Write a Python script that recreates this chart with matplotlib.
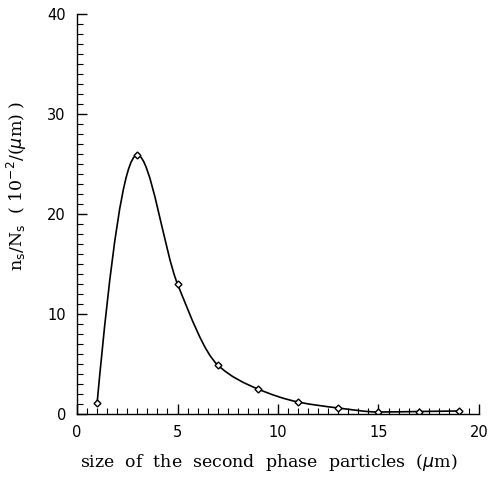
import numpy as np
import matplotlib
matplotlib.use("Agg")
import matplotlib.pyplot as plt
from matplotlib.path import Path
from matplotlib.patches import PathPatch
from matplotlib.ticker import MultipleLocator

size_um = [1, 3, 5, 7, 9, 11, 13, 15, 17, 19]
ratio = [1.1, 25.9, 13.0, 4.9, 2.5, 1.2, 0.6, 0.2, 0.25, 0.3]
xticks = [0, 5, 10, 15, 20]
yticks = [0, 10, 20, 30, 40]

fig = plt.figure(figsize=(4.89, 4.80), dpi=100)
ax = fig.add_axes([0.1575, 0.1375, 0.822, 0.8333])

# shape-preserving (PCHIP-style) tangents -> cubic Bezier path through the points
x = np.array(size_um, float)
y = np.array(ratio, float)
n = len(x)
h = np.diff(x)
d = np.diff(y) / h
m = np.zeros(n)
for i in range(1, n - 1):
    if d[i - 1] * d[i] <= 0:
        m[i] = 0.0
    else:
        w1 = 2 * h[i] + h[i - 1]
        w2 = h[i] + 2 * h[i - 1]
        m[i] = (w1 + w2) / (w1 / d[i - 1] + w2 / d[i])
def end_slope(h0, h1, d0, d1):
    s = ((2 * h0 + h1) * d0 - h0 * d1) / (h0 + h1)
    if np.sign(s) != np.sign(d0):
        s = 0.0
    elif np.sign(d0) != np.sign(d1) and abs(s) > abs(3 * d0):
        s = 3 * d0
    return s
m[0] = end_slope(h[0], h[1], d[0], d[1])
m[-1] = end_slope(h[-1], h[-2], d[-1], d[-2])

verts = [(x[0], y[0])]
codes = [Path.MOVETO]
for i in range(n - 1):
    verts += [(x[i] + h[i] / 3, y[i] + m[i] * h[i] / 3),
              (x[i + 1] - h[i] / 3, y[i + 1] - m[i + 1] * h[i] / 3),
              (x[i + 1], y[i + 1])]
    codes += [Path.CURVE4] * 3
ax.add_patch(PathPatch(Path(verts, codes), fill=False, lw=1.2, ec="black"))
ax.plot(size_um, ratio, ls="none", marker="D", ms=3.5, mfc="white", mec="black", mew=1.0)

ax.set_xlim(0, 20)
ax.set_ylim(0, 40)
for s in ["top", "right"]:
    ax.spines[s].set_visible(False)
ax.spines["left"].set_linewidth(1.0)
ax.spines["bottom"].set_linewidth(1.0)
ax.set_xticks(xticks)
ax.set_yticks(yticks)
ax.xaxis.set_minor_locator(MultipleLocator(0.5))
ax.yaxis.set_minor_locator(MultipleLocator(1))
ax.tick_params(which="major", direction="in", length=7, width=1.0, labelsize=10.5)
ax.tick_params(which="minor", direction="in", length=4, width=0.8)
ax.tick_params(axis="x", pad=8)
ax.tick_params(axis="y", pad=8)

ax.set_xlabel(r"size  of  the  second  phase  particles  ($\mu$m)",
              family="DejaVu Serif", fontsize=12.5)
ax.xaxis.set_label_coords(0.478, -0.095)
ax.set_ylabel(r"n$_\mathrm{s}$/N$_\mathrm{s}$  ( 10$^{-2}$/($\mu$m) )",
              family="DejaVu Serif", fontsize=12.5)
ax.yaxis.set_label_coords(-0.12, 0.57)

fig.savefig("out.png", dpi=100)
